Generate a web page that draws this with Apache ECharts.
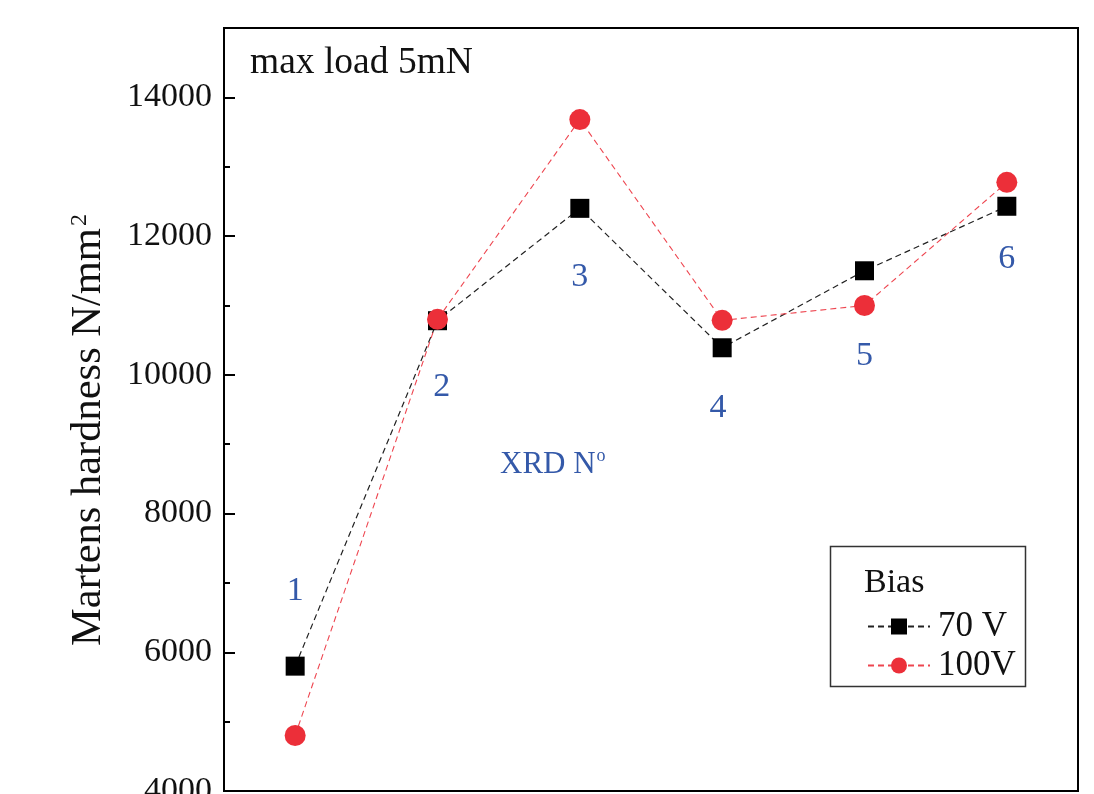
<!DOCTYPE html>
<html>
<head>
<meta charset="utf-8">
<script src="https://cdn.jsdelivr.net/npm/echarts@6/dist/echarts.min.js"></script>
<style>
html,body{margin:0;padding:0;background:#fff;}
#chart{width:1094px;height:794px;}
</style>
</head>
<body>
<div id="chart"></div>
<script>
// ---- data ----
var xrdNo = [1, 2, 3, 4, 5, 6];
var bias70V = [5800, 10780, 12400, 10390, 11500, 12430];
var bias100V = [4800, 10800, 13680, 10785, 11000, 12775];
var yTicks = [4000, 6000, 8000, 10000, 12000, 14000];
// annotation labels (data coordinates)
var annoText = ['1', '2', '3', '4', '5', '6'];
var annoX = [1.0, 2.03, 3.0, 3.97, 5.0, 6.0];
var annoY = [6880, 9825, 11410, 9520, 10270, 11670];
var xrdLabel = {x: 2.81, y: 8700};

var FONT = '"Liberation Serif", "Times New Roman", serif';
var BLUE = '#3459a9';
var RED = '#ec2f39';

var chart = echarts.init(document.getElementById('chart'));

var annoData = annoText.map(function (t, i) {
  return {name: t, value: [annoX[i], annoY[i]]};
});
annoData.push({name: 'xrd', value: [xrdLabel.x, xrdLabel.y],
  label: {formatter: '{a|XRD N}{s|o}'}});

var option = {
  backgroundColor: '#fff',
  animation: false,
  grid: {left: 224, right: 16, top: 28, bottom: 3, show: true,
         borderColor: '#000', borderWidth: 2, containLabel: false, outerBoundsMode: 'none'},
  xAxis: {
    type: 'value', min: 0.5, max: 6.5,
    axisLine: {show: true, lineStyle: {color: '#000', width: 2}},
    axisTick: {show: false}, axisLabel: {show: false}, splitLine: {show: false}
  },
  yAxis: {
    type: 'value', min: 4000, max: 15000, interval: 2000,
    axisLine: {show: true, lineStyle: {color: '#000', width: 2}},
    axisTick: {show: true, inside: true, length: 11, lineStyle: {color: '#000', width: 2}},
    minorTick: {show: true, splitNumber: 2, length: 6, lineStyle: {color: '#000', width: 2}},
    splitLine: {show: false},
    axisLabel: {
      margin: 12, color: '#111', fontFamily: FONT, fontSize: 34,
      customValues: yTicks,
      formatter: function (v) { return String(v); }
    }
  },
  legend: {
    orient: 'vertical', left: 862, top: 604, itemWidth: 62, itemHeight: 20, itemGap: 4,
    data: ['70 V', '100V'],
    textStyle: {fontFamily: FONT, fontSize: 35, color: '#111', lineHeight: 34, padding: [0, 0, 0, 3]}
  },
  graphic: [
    {type: 'rect', left: 828, top: 544, shape: {width: 195, height: 140},
     style: {fill: 'none', stroke: '#333', lineWidth: 1.5}, z: 10},
    {type: 'text', left: 864, top: 566, z: 10,
     style: {text: 'Bias', font: '34px ' + FONT, fill: '#111'}},
    {type: 'text', left: 250, top: 44, z: 10,
     style: {text: 'max load 5mN', font: '37.5px ' + FONT, fill: '#111'}},
    {type: 'text', x: 89, y: 430, rotation: Math.PI / 2, z: 10,
     style: {text: '{m|Martens hardness N/mm}{s|2}', align: 'center', verticalAlign: 'middle',
       rich: {m: {fontFamily: FONT, fontSize: 42.5, fill: '#111', color: '#111'},
              s: {fontFamily: FONT, fontSize: 24, fill: '#111', color: '#111', verticalAlign: 'top', padding: [0, 0, 16, 2]}}}}
  ],
  series: [
    {
      name: '70 V', type: 'line', data: xrdNo.map(function (x, i) { return [x, bias70V[i]]; }),
      symbol: 'rect', symbolSize: 19,
      itemStyle: {color: '#000'},
      lineStyle: {color: '#222', width: 1.2, type: [6, 4]}, z: 3
    },
    {
      name: '100V', type: 'line', data: xrdNo.map(function (x, i) { return [x, bias100V[i]]; }),
      symbol: 'circle', symbolSize: 21,
      itemStyle: {color: RED},
      lineStyle: {color: '#ee4650', width: 1.1, type: [6, 4]}, z: 4
    },
    {
      name: 'anno', type: 'scatter', data: annoData, symbolSize: 0, silent: true,
      itemStyle: {opacity: 1},
      label: {
        show: true, position: 'inside', formatter: '{b}', color: BLUE, opacity: 1,
        fontFamily: FONT, fontSize: 34,
        rich: {a: {fontFamily: FONT, fontSize: 31, color: BLUE},
               s: {fontFamily: FONT, fontSize: 18, color: BLUE, padding: [0, 0, 18, 1]}}
      }, z: 5
    }
  ]
};
chart.setOption(option);
</script>
</body>
</html>
